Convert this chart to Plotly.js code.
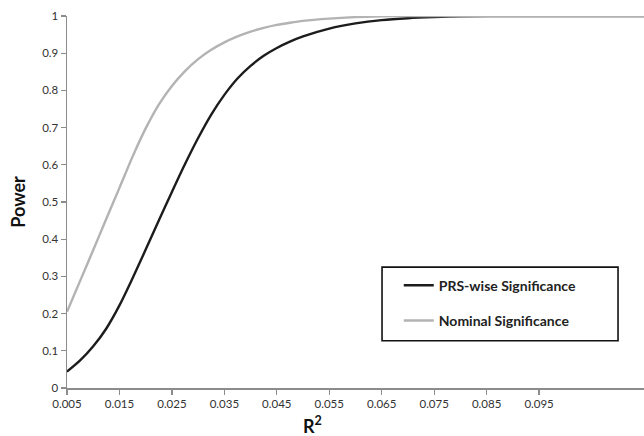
<!DOCTYPE html>
<html>
<head>
<meta charset="utf-8">
<script src="https://cdn.plot.ly/plotly-3.0.1.min.js"></script>
<style>html,body{margin:0;padding:0;background:#fff;}#chart{width:644px;height:436px;}</style>
</head>
<body>
<div id="chart"></div>
<script>
const r2 = [0.005, 0.0075, 0.010, 0.0125, 0.015, 0.0175, 0.020, 0.0225, 0.025, 0.0275, 0.030, 0.0325, 0.035, 0.0375, 0.040, 0.0425, 0.045, 0.0475, 0.050, 0.055, 0.060, 0.065, 0.070, 0.075, 0.080, 0.090, 0.100, 0.110, 0.115];
const prsWise = [0.044, 0.074, 0.112, 0.160, 0.222, 0.295, 0.372, 0.450, 0.527, 0.602, 0.672, 0.735, 0.788, 0.832, 0.866, 0.893, 0.914, 0.931, 0.945, 0.966, 0.980, 0.989, 0.994, 0.997, 0.999, 1, 1, 1, 1];
const nominal = [0.205, 0.288, 0.371, 0.455, 0.538, 0.622, 0.698, 0.762, 0.812, 0.852, 0.884, 0.909, 0.929, 0.945, 0.958, 0.968, 0.976, 0.982, 0.987, 0.993, 0.997, 0.999, 1, 1, 1, 1, 1, 1, 1];
const xTicks = [0.005, 0.015, 0.025, 0.035, 0.045, 0.055, 0.065, 0.075, 0.085, 0.095];
const xTickText = ["0.005", "0.015", "0.025", "0.035", "0.045", "0.055", "0.065", "0.075", "0.085", "0.095"];
const yTicks = [0, 0.1, 0.2, 0.3, 0.4, 0.5, 0.6, 0.7, 0.8, 0.9, 1];
const yTickText = ["0", "0.1", "0.2", "0.3", "0.4", "0.5", "0.6", "0.7", "0.8", "0.9", "1"];

const traces = [
  {x: r2, y: prsWise, mode: 'lines', name: '<b>PRS-wise Significance</b>', legendgroup: 'a',
   line: {color: '#1c1c1c', width: 2.4, shape: 'spline', smoothing: 0.8}},
  {x: r2, y: nominal, mode: 'lines', name: '<b>Nominal Significance</b>', legendgroup: 'b',
   line: {color: '#b3b3b3', width: 2.4, shape: 'spline', smoothing: 0.8}}
];

const layout = {
  width: 644, height: 436,
  margin: {l: 67, r: 0, t: 16, b: 48},
  paper_bgcolor: '#fff', plot_bgcolor: '#fff',
  font: {family: 'Lato, "Open Sans", sans-serif', size: 11, color: '#333'},
  showlegend: true,
  xaxis: {
    range: [0.005, 0.115], tickvals: xTicks, ticktext: xTickText,
    showgrid: false, zeroline: false, showline: true, linecolor: '#8c8c8c', linewidth: 1.5,
    ticks: 'outside', ticklen: 5, tickcolor: '#8c8c8c', tickwidth: 1.2,
    tickfont: {size: 11.5, color: '#333'}
  },
  yaxis: {
    range: [0, 1], tickvals: yTicks, ticktext: yTickText,
    showgrid: false, zeroline: false, showline: true, linecolor: '#8c8c8c', linewidth: 1.5,
    ticks: 'outside', ticklen: 5, tickcolor: '#8c8c8c', tickwidth: 1.2,
    tickfont: {size: 11.5, color: '#333'},
    title: {text: '<b>Power</b>', font: {size: 18, color: '#111'}, standoff: 12}
  },
  legend: {
    x: 0.575, y: 0.318, xanchor: 'left', yanchor: 'top',
    bgcolor: 'rgba(0,0,0,0)', borderwidth: 0,
    font: {size: 14, color: '#222'},
    tracegroupgap: 14, traceorder: 'grouped', itemwidth: 30
  },
  shapes: [
    {type: 'rect', xref: 'paper', yref: 'paper', x0: 0.546, x1: 0.955, y0: 0.127, y1: 0.325,
     line: {color: '#111', width: 1.6}, fillcolor: 'rgba(0,0,0,0)'}
  ],
  annotations: [
    {text: '<b>R<sup>2</sup></b>', xref: 'paper', yref: 'paper', x: 0.426, y: -0.1,
     xanchor: 'center', yanchor: 'middle', showarrow: false, font: {size: 18, color: '#111'}}
  ]
};

Plotly.newPlot('chart', traces, layout, {displayModeBar: false, staticPlot: true});
</script>
</body>
</html>
